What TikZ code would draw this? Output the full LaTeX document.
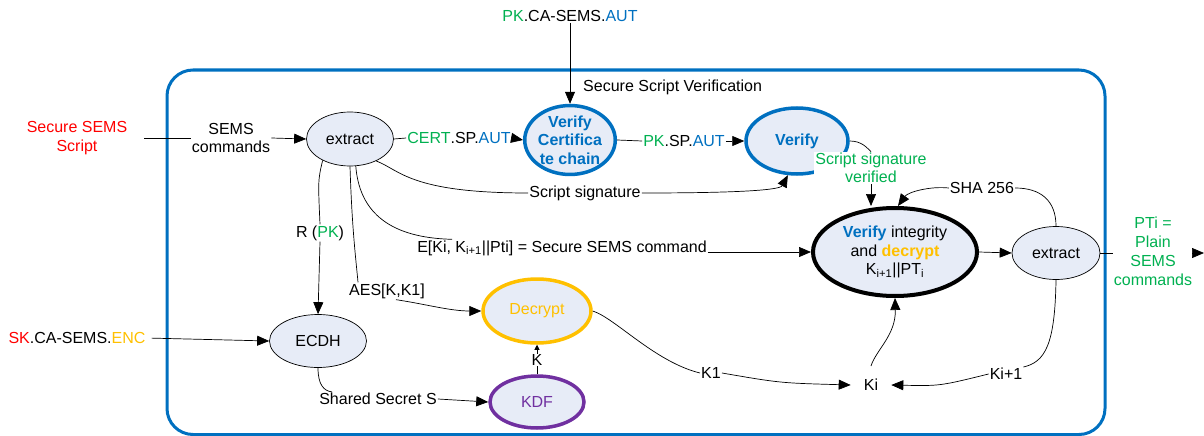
\documentclass[tikz,border=0pt]{standalone}
\usepackage{fontspec}
\setmainfont{Liberation Sans}
\usetikzlibrary{shapes.geometric,arrows.meta,calc}
\definecolor{vblue}{RGB}{0,112,192}
\definecolor{vgreen}{RGB}{0,176,80}
\definecolor{vorange}{RGB}{255,192,0}
\definecolor{vpurple}{RGB}{112,48,160}
\definecolor{vred}{RGB}{255,0,0}
\definecolor{efill}{RGB}{231,236,247}
\begin{document}
\begin{tikzpicture}[x=1pt,y=-1pt,
  every node/.style={font=\fontsize{16}{18.5}\selectfont},
  ell/.style={ellipse,draw,fill=efill,inner sep=0pt,line width=0.7pt,align=center},
  bfont/.style={font=\bfseries\fontsize{16}{18.5}\selectfont},
  lbl/.style={inner sep=1pt,align=center},
  conn/.style={line width=0.7pt},
  arr/.style={conn,-{Triangle[length=12pt,width=10pt]}},
]
\useasboundingbox (0,0) rectangle (1204,436);
\draw[vblue,line width=3pt,rounded corners=26pt] (167,70) rectangle (1105,434.5);

% ellipses
\node[ell,minimum width=87pt,minimum height=54pt] (ex1) at (350,139) {extract};
\node[ell,draw=vblue,line width=3.5pt,minimum width=89pt,minimum height=64pt,text=vblue,bfont] (cert) at (570,140) {Verify\\Certifica\\te chain};
\node[ell,draw=vblue,line width=3.5pt,minimum width=102pt,minimum height=66pt,text=vblue,bfont] (ver) at (797,141) {Verify};
\node[ell,line width=4pt,minimum width=164pt,minimum height=88pt,font=\fontsize{16}{18.5}\selectfont] (vi) at (895,252) {\textcolor{vblue}{\bfseries Verify} integrity\\and \textcolor{vorange}{\bfseries decrypt}\\K\textsubscript{i+1}||PT\textsubscript{i}};
\node[ell,minimum width=88pt,minimum height=53pt] (ex2) at (1056,253) {extract};
\node[ell,minimum width=97pt,minimum height=53pt] (ecdh) at (318,341) {ECDH};
\node[ell,draw=vorange,line width=3.5pt,minimum width=108pt,minimum height=64pt,text=vorange] (dec) at (537,311) {Decrypt};
\node[ell,draw=vpurple,line width=3.5pt,minimum width=94pt,minimum height=52pt,text=vpurple] (kdf) at (537,402) {KDF};

% labels
\node[lbl,text=vred] (ss) at (77,138) {Secure SEMS\\Script};
\node[lbl] (sc) at (231,138) {SEMS\\commands};
\node[lbl] (cs) at (459,138) {\textcolor{vgreen}{CERT}.SP.\textcolor{vblue}{AUT}};
\node[lbl] (pks) at (684,141) {\textcolor{vgreen}{PK}.SP.\textcolor{vblue}{AUT}};
\node[lbl] (pkca) at (570,16) {\textcolor{vgreen}{PK}.CA-SEMS.\textcolor{vblue}{AUT}};
\node[lbl,anchor=west] (title) at (582,87) {Secure Script Verification};
\node[lbl,text=vgreen,fill=white] (ssv) at (871,168) {Script signature\\verified};
\node[lbl] (sig) at (585,193) {Script signature};
\node[lbl] (sha) at (982,188) {SHA 256};
\node[lbl] (rpk) at (320,233) {R (\textcolor{vgreen}{PK})};
\node[lbl] (aes) at (387,291) {AES[K,K1]};
\node[lbl] (eks) at (562,248) {E[Ki, K\textsubscript{i+1}||Pti] = Secure SEMS command};
\node[lbl] (sss) at (378,399) {Shared Secret S};
\node[lbl] (sk) at (77,338) {\textcolor{vred}{SK}.CA-SEMS.\textcolor{vorange}{ENC}};
\node[lbl,inner sep=0.5pt] (k) at (537,360) {K};
\node[lbl] (k1) at (711,373) {K1};
\node[lbl] (kip) at (1006,374) {Ki+1};
\node[lbl,inner sep=13pt] (ki) at (871,385) {Ki};
\node[lbl,text=vgreen,font=\fontsize{16}{19}\selectfont] (pti) at (1153,251) {PTi =\\Plain\\SEMS\\commands};
\coordinate (out) at (1204,253);

% connectors
\draw[conn,shorten <=16pt] (ss.east) -- (sc.west);
\draw[arr] (sc.east) -- (ex1.west);
\draw[conn] (ex1.east) -- (cs.west);
\draw[arr] (cs.east) -- (cert.west);
\draw[conn] (cert.east) -- (pks.west);
\draw[arr] (pks.east) -- (ver.west);
\draw[arr] (pkca.south) -- (cert.north);
\draw[conn] (ver.east) .. controls (862,141) and (867,148) .. (ssv.north);
\draw[arr] (ssv.south) -- (ssv.south |- vi.north);
\draw[conn] (ex2.north) .. controls (1056,200) and (1040,188) .. (sha.east);
\draw[arr] (sha.west) .. controls (930,186) and (908,192) .. ($(vi.north)+(3,0)$);
\draw[conn] (ex1.-40) .. controls (400,170) and (410,193) .. (sig.west);
\draw[arr] (sig.east) .. controls (740,193) and (780,190) .. (ver.-105);
\draw[conn] (ex1.-142) .. controls (318,180) .. (rpk.north);
\draw[arr] (rpk.south) -- (ecdh.north);
\draw[conn] (ex1.-90) .. controls (352,230) and (356,260) .. ($(aes.north west)+(10,0)$);
\draw[arr] ($(aes.south east)+(-30,0)$) .. controls (425,304) and (450,311) .. (dec.west);
\draw[conn] (ex1.-78) .. controls (360,220) and (400,238) .. ($(eks.north west)+(36,0)$);
\draw[arr] (eks.east |- vi.west) -- (vi.west);
\draw[conn] (ecdh.south) .. controls (318,385) and (324,391) .. ($(sss.north west)+(14,0)$);
\draw[arr] (sss.east) -- (kdf.west);
\draw[arr,shorten <=5pt] (sk.east) -- (ecdh.west);
\draw[conn] (kdf.north) -- (k.south);
\draw[conn,-{Triangle[length=5pt,width=5pt]}] (k.north) -- (dec.south);
\draw[conn] (dec.east) .. controls (615,318) and (655,362) .. (k1.west);
\draw[arr] (k1.east) .. controls (780,383) .. (ki.west);
\draw[conn] (ex2.south) .. controls (1055,345) and (1045,362) .. (kip.north east);
\draw[arr] (kip.west) .. controls (940,386) .. (ki.east);
\draw[arr] (ki.north) .. controls (876,350) and (896,335) .. (vi.south);
\draw[arr] (vi.east) -- (ex2.west);
\draw[conn] (ex2.east) -- (ex2.east -| pti.west);
\draw[arr] (pti.east |- out) -- (out);
\end{tikzpicture}
\end{document}
